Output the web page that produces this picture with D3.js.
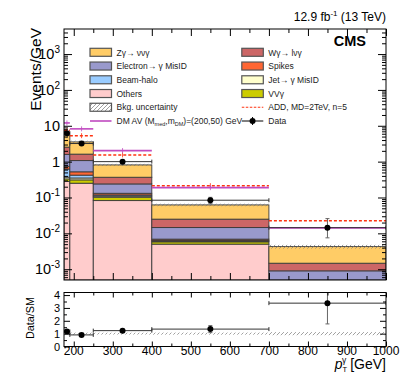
<!DOCTYPE html>
<html>
<head>
<meta charset="utf-8">
<script src="https://cdn.jsdelivr.net/npm/d3@7"></script>
<style>
body { margin: 0; background: #fff; }
text { font-family: "Liberation Sans", Arial, Helvetica, sans-serif; }
</style>
</head>
<body>
<div id="chart"></div>
<script>
// bin edges in pT (GeV)
var edges = [175, 190, 250, 400, 700, 1000];

// stacked backgrounds, events/GeV, bottom to top
var others   = [0.28, 0.25, 0.082, 0.005, 0.0002];
var vvg      = [0.05, 0.06, 0.02, 0.0008, 0.00008];
var jet      = [0.04, 0.04, 0.008, 0.0003, 0.00004];
var halo     = [0.25, 0.07, 0.008, 0.0003, 0.00004];
var spikes   = [0.12, 0.10, 0.013, 0.0005, 0.00004];
var electron = [0.85, 0.55, 0.108, 0.0076, 0.0005];
var wg       = [0.95, 0.55, 0.128, 0.0104, 0.00057];
var zg       = [2.76, 1.93, 0.443, 0.0372, 0.0028];
var bkgUnc   = [0.12, 0.08, 0.07, 0.08, 0.12]; // relative

// data
var dataX     = [182.5, 220, 325, 550, 850];
var dataY     = [6.2, 3.2, 1.0, 0.084, 0.0144];
var dataErrUp = [0.6, 0.23, 0.08, 0.017, 0.0114];
var dataErrDn = [0.6, 0.23, 0.08, 0.017, 0.0069];

// signals
var addSig = [7.5, 5.3, 1.54, 0.214, 0.0226];
var dmSig  = [12, 8.2, 2.03, 0.188, 0.0142];

// axis ticks
var xMajor = [200, 300, 400, 500, 600, 700, 800, 900, 1000];
var yMajor = [1e-3, 1e-2, 1e-1, 1, 10, 100, 1000];
var yMajorLabel = [["10", "-3"], ["10", "-2"], ["10", "-1"], ["1", ""], ["10", ""], ["10", "2"], ["10", "3"]];
var rMajor = [0, 1, 2, 3, 4];

var W = 411, H = 379;
var L = 64, R = 386, T1 = 29, B1 = 280, T2 = 292.5, B2 = 346.5;
var YMIN = 5e-4;

var x = d3.scaleLinear().domain([175, 1000]).range([L, R]);
var y = d3.scaleLog().domain([YMIN, 5e3]).range([B1, T1]);
var yr = d3.scaleLinear().domain([0, 4.2]).range([B2, T2]);
var yc = v => y(Math.max(v, YMIN));

var svg = d3.select("#chart").append("svg").attr("width", W).attr("height", H);
var defs = svg.append("defs");
defs.append("clipPath").attr("id", "clip1").append("rect")
  .attr("x", L).attr("y", T1).attr("width", R - L).attr("height", B1 - T1);
defs.append("clipPath").attr("id", "clip2").append("rect")
  .attr("x", L).attr("y", T2).attr("width", R - L).attr("height", B2 - T2);
var hatch = defs.append("pattern").attr("id", "hatch")
  .attr("patternUnits", "userSpaceOnUse").attr("width", 4).attr("height", 4);
hatch.append("path").attr("d", "M0,4 L4,0").attr("stroke", "#777").attr("stroke-width", 0.7);

var layers = [
  { key: "others", vals: others, color: "#ffcccc" },
  { key: "vvg", vals: vvg, color: "#cccc00" },
  { key: "jet", vals: jet, color: "#ffffcc" },
  { key: "halo", vals: halo, color: "#99ccff" },
  { key: "spikes", vals: spikes, color: "#ff6633" },
  { key: "electron", vals: electron, color: "#9999cc" },
  { key: "wg", vals: wg, color: "#cc6666" },
  { key: "zg", vals: zg, color: "#ffcc66" }
];
var colorOf = {};
layers.forEach(l => colorOf[l.key] = l.color);

var rows = d3.range(5).map(i => {
  var r = { bin: i };
  layers.forEach(l => r[l.key] = l.vals[i]);
  return r;
});
var series = d3.stack().keys(layers.map(l => l.key))(rows);
var total = series[series.length - 1].map(d => d[1]);

// ---------- upper panel ----------
var up = svg.append("g").attr("clip-path", "url(#clip1)");

series.forEach(s => {
  up.append("g").selectAll("rect").data(s).enter().append("rect")
    .attr("x", d => x(edges[d.data.bin]))
    .attr("width", d => x(edges[d.data.bin + 1]) - x(edges[d.data.bin]))
    .attr("y", d => yc(d[1]))
    .attr("height", d => yc(d[0]) - yc(d[1]))
    .attr("fill", colorOf[s.key])
    .attr("stroke", "#3a3a3a").attr("stroke-width", 0.9);
});

up.selectAll(".unc").data(total).enter().append("rect")
  .attr("x", (d, i) => x(edges[i]))
  .attr("width", (d, i) => x(edges[i + 1]) - x(edges[i]))
  .attr("y", (d, i) => y(d * (1 + bkgUnc[i])))
  .attr("height", (d, i) => y(d * (1 - bkgUnc[i])) - y(d * (1 + bkgUnc[i])))
  .attr("fill", "url(#hatch)");

function sigLines(g, vals, color, dash, width) {
  g.append("g").selectAll("line").data(vals).enter().append("line")
    .attr("x1", (d, i) => x(edges[i])).attr("x2", (d, i) => x(edges[i + 1]))
    .attr("y1", d => y(d)).attr("y2", d => y(d))
    .attr("stroke", color).attr("stroke-width", width).attr("stroke-dasharray", dash);
  g.append("g").selectAll("line").data(vals).enter().append("line")
    .attr("x1", (d, i) => x((edges[i] + edges[i + 1]) / 2)).attr("x2", (d, i) => x((edges[i] + edges[i + 1]) / 2))
    .attr("y1", d => y(d) - 2.5).attr("y2", d => y(d) + 2.5)
    .attr("stroke", color).attr("stroke-width", 0.8);
}
sigLines(up, addSig, "#ff3311", "3,2", 1.5);
sigLines(up, dmSig, "#c04ac0", null, 1.6);

function dataPoints(g, ys, up_, dn_, sy) {
  var gg = g.append("g");
  ys.forEach((v, i) => {
    var x0 = x(edges[i]), x1 = x(edges[i + 1]), cx = x(dataX[i]), cy = sy(v);
    gg.append("line").attr("x1", x0).attr("x2", x1).attr("y1", cy).attr("y2", cy)
      .attr("stroke", "#333").attr("stroke-width", 1);
    gg.append("line").attr("x1", x0).attr("x2", x0).attr("y1", cy - 2).attr("y2", cy + 2).attr("stroke", "#333");
    gg.append("line").attr("x1", x1).attr("x2", x1).attr("y1", cy - 2).attr("y2", cy + 2).attr("stroke", "#333");
    var ya = sy(v + up_[i]), yb = sy(v - dn_[i]);
    gg.append("line").attr("x1", cx).attr("x2", cx).attr("y1", ya).attr("y2", yb)
      .attr("stroke", "#666").attr("stroke-width", 1);
    gg.append("line").attr("x1", cx - 2).attr("x2", cx + 2).attr("y1", ya).attr("y2", ya).attr("stroke", "#666");
    gg.append("line").attr("x1", cx - 2).attr("x2", cx + 2).attr("y1", yb).attr("y2", yb).attr("stroke", "#666");
    gg.append("circle").attr("cx", cx).attr("cy", cy).attr("r", 3).attr("fill", "#000");
  });
}
dataPoints(up, dataY, dataErrUp, dataErrDn, y);

// ---------- ratio panel ----------
var lo = svg.append("g").attr("clip-path", "url(#clip2)");
lo.selectAll("rect").data(bkgUnc).enter().append("rect")
  .attr("x", (d, i) => x(edges[i]))
  .attr("width", (d, i) => x(edges[i + 1]) - x(edges[i]))
  .attr("y", d => yr(1 + d)).attr("height", d => yr(1 - d) - yr(1 + d))
  .attr("fill", "url(#hatch)");
var ratio = dataY.map((v, i) => v / total[i]);
var rUp = dataErrUp.map((v, i) => v / total[i]);
var rDn = dataErrDn.map((v, i) => v / total[i]);
dataPoints(lo, ratio, rUp, rDn, yr);

// ---------- frames and ticks ----------
function tickSet(g, gen, vals, size) {
  var a = g.append("g").call(gen.tickValues(vals).tickSize(size).tickSizeOuter(0).tickFormat(""));
  a.select(".domain").remove();
  a.selectAll("text").remove();
  a.selectAll("line").attr("stroke", "#000").attr("stroke-width", 1);
}
var xMinor = d3.range(250, 1000, 100);
var yMinor = [];
d3.range(-4, 4).forEach(k => d3.range(2, 10).forEach(m => {
  var v = m * Math.pow(10, k);
  if (v > YMIN && v < 5e3) yMinor.push(v);
}));
var rMinor = [0.5, 1.5, 2.5, 3.5];

var ax = svg.append("g");
// upper panel
tickSet(ax.append("g").attr("transform", `translate(0,${B1})`), d3.axisBottom(x), xMajor, -7);
tickSet(ax.append("g").attr("transform", `translate(0,${B1})`), d3.axisBottom(x), xMinor, -4);
tickSet(ax.append("g").attr("transform", `translate(0,${T1})`), d3.axisTop(x), xMajor, -7);
tickSet(ax.append("g").attr("transform", `translate(0,${T1})`), d3.axisTop(x), xMinor, -4);
tickSet(ax.append("g").attr("transform", `translate(${L},0)`), d3.axisLeft(y), yMajor, -8);
tickSet(ax.append("g").attr("transform", `translate(${L},0)`), d3.axisLeft(y), yMinor, -4);
tickSet(ax.append("g").attr("transform", `translate(${R},0)`), d3.axisRight(y), yMajor, -8);
tickSet(ax.append("g").attr("transform", `translate(${R},0)`), d3.axisRight(y), yMinor, -4);
// ratio panel
tickSet(ax.append("g").attr("transform", `translate(0,${B2})`), d3.axisBottom(x), xMajor, -5);
tickSet(ax.append("g").attr("transform", `translate(0,${B2})`), d3.axisBottom(x), xMinor, -3);
tickSet(ax.append("g").attr("transform", `translate(0,${T2})`), d3.axisTop(x), xMajor, -5);
tickSet(ax.append("g").attr("transform", `translate(0,${T2})`), d3.axisTop(x), xMinor, -3);
tickSet(ax.append("g").attr("transform", `translate(${L},0)`), d3.axisLeft(yr), rMajor, -6);
tickSet(ax.append("g").attr("transform", `translate(${L},0)`), d3.axisLeft(yr), rMinor, -3);
tickSet(ax.append("g").attr("transform", `translate(${R},0)`), d3.axisRight(yr), rMajor, -6);
tickSet(ax.append("g").attr("transform", `translate(${R},0)`), d3.axisRight(yr), rMinor, -3);

svg.append("rect").attr("x", L).attr("y", T1).attr("width", R - L).attr("height", B1 - T1)
  .attr("fill", "none").attr("stroke", "#000");
svg.append("rect").attr("x", L).attr("y", T2).attr("width", R - L).attr("height", B2 - T2)
  .attr("fill", "none").attr("stroke", "#000");

// tick labels
yMajor.forEach((v, i) => {
  var t = svg.append("text").attr("x", 60).attr("y", y(v) + 5)
    .attr("text-anchor", "end").attr("font-size", 14.5);
  t.append("tspan").text(yMajorLabel[i][0]);
  if (yMajorLabel[i][1]) t.append("tspan").attr("dy", -6).attr("font-size", 10).text(yMajorLabel[i][1]);
});
rMajor.forEach(v => {
  svg.append("text").attr("x", 60).attr("y", yr(v) + 4).attr("text-anchor", "end")
    .attr("font-size", 11).text(v);
});
xMajor.forEach(v => {
  svg.append("text").attr("x", x(v)).attr("y", 355).attr("text-anchor", "middle")
    .attr("font-size", 12).text(v);
});

// titles (rotated about their anchor point)
svg.append("text").attr("x", 41).attr("y", 28)
  .attr("transform", "rotate(-90 41 28)")
  .attr("text-anchor", "end").attr("font-size", "15.5px").text("Events/GeV");
svg.append("text").attr("x", 33.5).attr("y", 297)
  .attr("transform", "rotate(-90 33.5 297)")
  .attr("text-anchor", "end").attr("font-size", "10.8px").text("Data/SM");
var xt = svg.append("text").attr("x", 386).attr("y", 369).attr("text-anchor", "end").attr("font-size", 14);
xt.append("tspan").attr("font-style", "italic").text("p");
xt.append("tspan").attr("font-size", 7.5).attr("dy", 3).text("T");
xt.append("tspan").attr("font-size", 8.5).attr("dx", -5).attr("dy", -9.5).text("γ");
xt.append("tspan").attr("dy", 6.5).text(" [GeV]");

var lum = svg.append("text").attr("x", 386).attr("y", 20.5).attr("text-anchor", "end").attr("font-size", 12);
lum.append("tspan").text("12.9 fb");
lum.append("tspan").attr("font-size", 8).attr("dy", -5).text("-1");
lum.append("tspan").attr("dy", 5).text(" (13 TeV)");
svg.append("text").attr("x", 366).attr("y", 45.5).attr("text-anchor", "end")
  .attr("font-size", 14.5).attr("font-weight", "bold").text("CMS");

// ---------- legend ----------
var legLeft = [
  { label: "Zγ→ ννγ", type: "box", fill: colorOf.zg },
  { label: "Electron→ γ MisID", type: "box", fill: colorOf.electron },
  { label: "Beam-halo", type: "box", fill: colorOf.halo },
  { label: "Others", type: "box", fill: colorOf.others },
  { label: "Bkg. uncertainty", type: "box", fill: "url(#hatch)" },
  { label: "DM", type: "dm" }
];
var legRight = [
  { label: "Wγ→ lνγ", type: "box", fill: colorOf.wg },
  { label: "Spikes", type: "box", fill: colorOf.spikes },
  { label: "Jet→ γ MisID", type: "box", fill: colorOf.jet },
  { label: "VVγ", type: "box", fill: colorOf.vvg },
  { label: "ADD, MD=2TeV, n=5", type: "add" },
  { label: "Data", type: "data" }
];
function legend(items, bx) {
  items.forEach((it, i) => {
    var cy = 52.3 + i * 13.74;
    var g = svg.append("g");
    if (it.type === "box") {
      g.append("rect").attr("x", bx).attr("y", cy - 4).attr("width", 21.5).attr("height", 8)
        .attr("fill", it.fill).attr("stroke", "#555").attr("stroke-width", 1.2);
    } else if (it.type === "add") {
      g.append("line").attr("x1", bx).attr("x2", bx + 21.5).attr("y1", cy).attr("y2", cy)
        .attr("stroke", "#ff3311").attr("stroke-width", 1.2).attr("stroke-dasharray", "2.5,1.5");
    } else if (it.type === "dm") {
      g.append("line").attr("x1", bx).attr("x2", bx + 21.5).attr("y1", cy).attr("y2", cy)
        .attr("stroke", "#c04ac0").attr("stroke-width", 1.6);
    } else {
      g.append("line").attr("x1", bx).attr("x2", bx + 21.5).attr("y1", cy).attr("y2", cy).attr("stroke", "#000");
      g.append("line").attr("x1", bx + 10.75).attr("x2", bx + 10.75).attr("y1", cy - 4).attr("y2", cy + 4).attr("stroke", "#000");
      g.append("circle").attr("cx", bx + 10.75).attr("cy", cy).attr("r", 3).attr("fill", "#000");
    }
    var t = g.append("text").attr("x", bx + 26.5).attr("y", cy + 3.2).attr("font-size", 8.5).attr("fill", "#222");
    if (it.type === "dm") {
      t.append("tspan").text("DM AV (M");
      t.append("tspan").attr("font-size", 5.5).attr("dy", 2).text("med");
      t.append("tspan").attr("dy", -2).text(",m");
      t.append("tspan").attr("font-size", 5.5).attr("dy", 2).text("DM");
      t.append("tspan").attr("dy", -2).text(")=(200,50) GeV");
    } else {
      t.text(it.label);
    }
  });
}
legend(legLeft, 90);
legend(legRight, 241.8);
</script>
</body>
</html>
